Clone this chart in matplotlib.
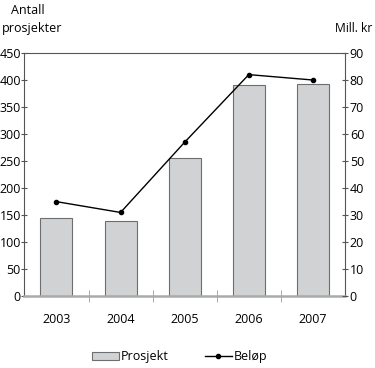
import matplotlib
matplotlib.use('Agg')
import numpy as np
import matplotlib.pyplot as plt
from matplotlib.patches import Patch
from matplotlib.lines import Line2D

plt.rcParams['font.family'] = ['Open Sans', 'DejaVu Sans']

years = ['2003', '2004', '2005', '2006', '2007']
prosjekt = [144, 139, 256, 391, 393]
belop = [35, 31, 57, 82, 80]

fig = plt.figure(figsize=(3.75, 3.68), dpi=100)
ax = fig.add_axes([0.065, 0.195, 0.855, 0.661])
x = np.arange(len(years))

ax.bar(x, prosjekt, width=0.5, color='#d1d2d4', edgecolor='#6d6e70', linewidth=0.8, zorder=2)
ax.set_xlim(-0.5, len(years) - 0.5)
ax.set_ylim(0, 450)
ax.set_yticks(range(0, 451, 50))
ax.set_xticks(x)
ax.set_xticklabels(years, fontsize=9)
ax.set_xticks(np.arange(0.5, len(years) - 0.5, 1), minor=True)
ax.tick_params(axis='x', which='major', length=0, pad=12)
ax.tick_params(axis='x', which='minor', length=8, direction='inout', color='#999999')
ax.tick_params(axis='y', labelsize=9, length=5, width=0.8, pad=0, direction='inout', color='#555555')

for s in ['left', 'right', 'top']:
    ax.spines[s].set_color('#555555')
    ax.spines[s].set_linewidth(0.8)
ax.spines['bottom'].set_color('#aaaaaa')
ax.spines['bottom'].set_linewidth(1.8)

ax2 = ax.twinx()
ax2.plot(x, belop, color='black', linewidth=1, marker='o', markersize=3, zorder=3)
ax2.set_ylim(0, 90)
ax2.set_yticks(range(0, 91, 10))
ax2.tick_params(axis='y', labelsize=9, length=5, width=0.8, pad=1, direction='inout', color='#555555')
for s in ax2.spines.values():
    s.set_visible(False)

fig.text(0.03, 0.955, 'Antall', fontsize=9, ha='left', va='bottom')
fig.text(0.005, 0.905, 'prosjekter', fontsize=9, ha='left', va='bottom')
fig.text(0.992, 0.905, 'Mill. kr', fontsize=8.7, ha='right', va='bottom')

handles = [Patch(facecolor='#d1d2d4', edgecolor='#6d6e70', linewidth=0.8),
           Line2D([0], [0], color='black', linewidth=1, marker='o', markersize=3)]
fig.legend(handles, ['Prosjekt', 'Beløp'], loc='center', bbox_to_anchor=(0.48, 0.03),
           ncol=2, frameon=False, fontsize=9, columnspacing=2.9, handlelength=2.1,
           handletextpad=0.2, borderpad=0)

fig.savefig('out.png', dpi=100)
